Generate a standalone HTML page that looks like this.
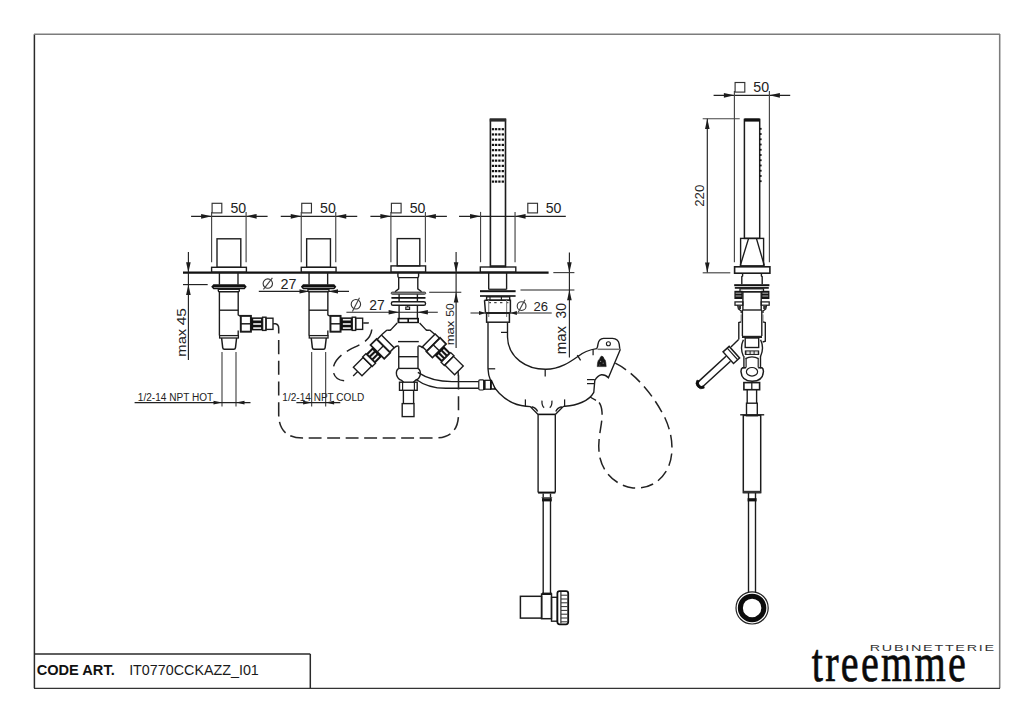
<!DOCTYPE html>
<html><head><meta charset="utf-8"><style>
html,body{margin:0;padding:0;background:#fff;}
svg{display:block;}
</style></head><body>
<svg width="1024" height="723" viewBox="0 0 1024 723">
<rect x="0" y="0" width="1024" height="723" fill="#fff"/>
<line x1="34.40" y1="34.20" x2="34.40" y2="688.20" stroke="#2a2a2a" stroke-width="1.49" /><line x1="34.00" y1="34.30" x2="1000.00" y2="34.30" stroke="#7c7c7c" stroke-width="1.55" /><line x1="999.70" y1="34.00" x2="999.70" y2="688.30" stroke="#7c7c7c" stroke-width="1.55" /><line x1="34.00" y1="688.30" x2="1000.00" y2="688.30" stroke="#333" stroke-width="1.32" /><line x1="34.00" y1="654.00" x2="310.30" y2="654.00" stroke="#2a2a2a" stroke-width="1.49" /><line x1="310.30" y1="654.00" x2="310.30" y2="688.10" stroke="#2a2a2a" stroke-width="1.49" /><text transform="translate(36.69,675.48) scale(0.9730,0.9788)" font-family="Liberation Sans" font-weight="bold" font-size="15" fill="#111" >CODE ART.</text><text transform="translate(129.14,675.44) scale(0.9880,0.9615)" font-family="Liberation Sans" font-weight="normal" font-size="14.5" fill="#1a1a1a" >IT0770CCKAZZ_I01</text><text transform="translate(811.83,680.89) scale(0.7438,1.0105)" font-family="Liberation Serif" font-weight="normal" font-size="54" fill="#0a0a0a" stroke="#0a0a0a" stroke-width="0.7" letter-spacing="3">treemme</text><text transform="translate(869.78,651.08) scale(1.4986,0.9778)" font-family="Liberation Sans" font-weight="normal" font-size="9.6" fill="#333" letter-spacing="1.15">RUBINETTERIE</text><line x1="183.00" y1="272.60" x2="548.60" y2="272.60" stroke="#111" stroke-width="2.30" /><line x1="191.10" y1="216.30" x2="267.60" y2="216.30" stroke="#222" stroke-width="1.15" /><rect x="212.10" y="203.30" width="9.70" height="9.60" stroke="#333" stroke-width="1.15" fill="none" /><text transform="translate(230.47,213.17) scale(1.0087,1.0228)" font-family="Liberation Sans" font-weight="normal" font-size="14" fill="#222" >50</text><polygon points="211.60,216.30 201.10,218.70 201.10,213.90" fill="#1c1c1c"/><polygon points="246.10,216.30 256.60,213.90 256.60,218.70" fill="#1c1c1c"/><line x1="211.60" y1="211.90" x2="211.60" y2="262.20" stroke="#444" stroke-width="1.15" /><line x1="246.10" y1="211.90" x2="246.10" y2="262.20" stroke="#444" stroke-width="1.15" /><line x1="280.75" y1="216.30" x2="357.25" y2="216.30" stroke="#222" stroke-width="1.15" /><rect x="301.75" y="203.30" width="9.70" height="9.60" stroke="#333" stroke-width="1.15" fill="none" /><text transform="translate(320.12,213.17) scale(1.0087,1.0228)" font-family="Liberation Sans" font-weight="normal" font-size="14" fill="#222" >50</text><polygon points="301.25,216.30 290.75,218.70 290.75,213.90" fill="#1c1c1c"/><polygon points="335.75,216.30 346.25,213.90 346.25,218.70" fill="#1c1c1c"/><line x1="301.25" y1="211.90" x2="301.25" y2="262.20" stroke="#444" stroke-width="1.15" /><line x1="335.75" y1="211.90" x2="335.75" y2="262.20" stroke="#444" stroke-width="1.15" /><line x1="370.40" y1="216.30" x2="446.90" y2="216.30" stroke="#222" stroke-width="1.15" /><rect x="391.40" y="203.30" width="9.70" height="9.60" stroke="#333" stroke-width="1.15" fill="none" /><text transform="translate(409.77,213.17) scale(1.0087,1.0228)" font-family="Liberation Sans" font-weight="normal" font-size="14" fill="#222" >50</text><polygon points="390.90,216.30 380.40,218.70 380.40,213.90" fill="#1c1c1c"/><polygon points="425.40,216.30 435.90,213.90 435.90,218.70" fill="#1c1c1c"/><line x1="390.90" y1="211.90" x2="390.90" y2="262.20" stroke="#444" stroke-width="1.15" /><line x1="425.40" y1="211.90" x2="425.40" y2="262.20" stroke="#444" stroke-width="1.15" /><line x1="459.05" y1="216.30" x2="565.80" y2="216.30" stroke="#222" stroke-width="1.15" /><rect x="527.80" y="203.30" width="9.70" height="9.60" stroke="#333" stroke-width="1.15" fill="none" /><text transform="translate(545.67,213.17) scale(1.0087,1.0228)" font-family="Liberation Sans" font-weight="normal" font-size="14" fill="#222" >50</text><polygon points="480.55,216.30 470.05,218.70 470.05,213.90" fill="#1c1c1c"/><polygon points="515.05,216.30 525.55,213.90 525.55,218.70" fill="#1c1c1c"/><line x1="480.55" y1="211.90" x2="480.55" y2="262.20" stroke="#444" stroke-width="1.15" /><line x1="515.05" y1="211.90" x2="515.05" y2="262.20" stroke="#444" stroke-width="1.15" /><rect x="217.00" y="238.80" width="23.80" height="28.50" stroke="#1c1c1c" stroke-width="1.38" fill="none" /><rect x="211.60" y="267.30" width="34.80" height="4.90" stroke="#1c1c1c" stroke-width="1.38" fill="none" /><line x1="219.40" y1="272.60" x2="219.40" y2="284.60" stroke="#1c1c1c" stroke-width="1.38" /><line x1="238.00" y1="272.60" x2="238.00" y2="284.60" stroke="#1c1c1c" stroke-width="1.38" /><polygon points="211.2,286.7 213.4,284.2 244.6,284.2 246.7,286.7 244.6,289.2 213.4,289.2" fill="#111"/><line x1="213.80" y1="287.50" x2="244.20" y2="287.50" stroke="#8a8a8a" stroke-width="1.03" /><path d="M218.3,289.2 L239.3,289.2 L239.3,290.8 Q239.3,291.8 238.3,291.8 L219.3,291.8 Q218.3,291.8 218.3,290.8 Z" stroke="#1c1c1c" stroke-width="1.38" fill="none" /><path d="M219.4,291.6 L219.4,335.6 M238.2,291.6 L238.2,314.8 L240.2,316.2 M238.2,330.5 L238.2,335.6" stroke="#1c1c1c" stroke-width="1.38" fill="none" /><line x1="219.40" y1="310.20" x2="238.20" y2="310.20" stroke="#1c1c1c" stroke-width="1.38" /><rect x="219.60" y="335.60" width="18.80" height="2.40" stroke="#1c1c1c" stroke-width="1.26" fill="none" /><path d="M221.6,338.0 L222.7,347.6 Q222.9,349.2 224.4,349.2 L233.8,349.2 Q235.3,349.2 235.5,347.6 L236.6,338.0" stroke="#1c1c1c" stroke-width="1.49" fill="none" /><line x1="222.00" y1="352.00" x2="222.00" y2="406.50" stroke="#444" stroke-width="1.15" /><line x1="236.00" y1="352.00" x2="236.00" y2="406.50" stroke="#444" stroke-width="1.15" /><rect x="240.80" y="315.90" width="10.10" height="15.80" stroke="#1c1c1c" stroke-width="1.95" fill="none" /><line x1="240.50" y1="323.80" x2="250.90" y2="323.80" stroke="#1c1c1c" stroke-width="1.49" /><rect x="250.90" y="317.40" width="11.70" height="13.00" fill="#111"/><rect x="253.20" y="318.90" width="7.90" height="1.60" fill="#f4f4f4"/><rect x="253.20" y="323.20" width="7.90" height="1.60" fill="#f4f4f4"/><rect x="253.20" y="327.30" width="7.90" height="1.60" fill="#f4f4f4"/><rect x="262.60" y="317.20" width="3.40" height="13.20" stroke="#1c1c1c" stroke-width="1.38" fill="none" /><rect x="266.00" y="318.20" width="7.00" height="11.20" stroke="#1c1c1c" stroke-width="1.38" fill="none" /><text transform="translate(137.84,400.7) scale(0.9501,1)" font-family="Liberation Sans" font-size="10.6" fill="#222">1/2-14 NPT HOT</text><line x1="134.60" y1="402.60" x2="250.50" y2="402.60" stroke="#222" stroke-width="1.15" /><polygon points="222.00,402.60 213.50,404.50 213.50,400.70" fill="#1c1c1c"/><polygon points="236.00,402.60 244.50,400.70 244.50,404.50" fill="#1c1c1c"/><rect x="306.65" y="238.80" width="23.80" height="28.50" stroke="#1c1c1c" stroke-width="1.38" fill="none" /><rect x="301.25" y="267.30" width="34.80" height="4.90" stroke="#1c1c1c" stroke-width="1.38" fill="none" /><line x1="309.05" y1="272.60" x2="309.05" y2="284.60" stroke="#1c1c1c" stroke-width="1.38" /><line x1="327.65" y1="272.60" x2="327.65" y2="284.60" stroke="#1c1c1c" stroke-width="1.38" /><polygon points="300.85,286.7 303.05,284.2 334.25,284.2 336.35,286.7 334.25,289.2 303.05,289.2" fill="#111"/><line x1="303.45" y1="287.50" x2="333.85" y2="287.50" stroke="#8a8a8a" stroke-width="1.03" /><path d="M307.95000000000005,289.2 L328.95000000000005,289.2 L328.95000000000005,290.8 Q328.95000000000005,291.8 327.95000000000005,291.8 L308.95000000000005,291.8 Q307.95000000000005,291.8 307.95000000000005,290.8 Z" stroke="#1c1c1c" stroke-width="1.38" fill="none" /><path d="M309.05,291.6 L309.05,335.6 M327.85,291.6 L327.85,314.8 L329.85,316.2 M327.85,330.5 L327.85,335.6" stroke="#1c1c1c" stroke-width="1.38" fill="none" /><line x1="309.05" y1="310.20" x2="327.85" y2="310.20" stroke="#1c1c1c" stroke-width="1.38" /><rect x="309.25" y="335.60" width="18.80" height="2.40" stroke="#1c1c1c" stroke-width="1.26" fill="none" /><path d="M311.25,338.0 L312.35,347.6 Q312.55,349.2 314.05,349.2 L323.45000000000005,349.2 Q324.95000000000005,349.2 325.15,347.6 L326.25,338.0" stroke="#1c1c1c" stroke-width="1.49" fill="none" /><line x1="311.65" y1="352.00" x2="311.65" y2="406.50" stroke="#444" stroke-width="1.15" /><line x1="325.65" y1="352.00" x2="325.65" y2="406.50" stroke="#444" stroke-width="1.15" /><rect x="330.45" y="315.90" width="10.10" height="15.80" stroke="#1c1c1c" stroke-width="1.95" fill="none" /><line x1="330.15" y1="323.80" x2="340.55" y2="323.80" stroke="#1c1c1c" stroke-width="1.49" /><rect x="340.55" y="317.40" width="11.70" height="13.00" fill="#111"/><rect x="342.85" y="318.90" width="7.90" height="1.60" fill="#f4f4f4"/><rect x="342.85" y="323.20" width="7.90" height="1.60" fill="#f4f4f4"/><rect x="342.85" y="327.30" width="7.90" height="1.60" fill="#f4f4f4"/><rect x="352.25" y="317.20" width="3.40" height="13.20" stroke="#1c1c1c" stroke-width="1.38" fill="none" /><rect x="355.65" y="318.20" width="7.00" height="11.20" stroke="#1c1c1c" stroke-width="1.38" fill="none" /><text transform="translate(282.35,400.7) scale(0.9487,1)" font-family="Liberation Sans" font-size="10.6" fill="#222">1/2-14 NPT COLD</text><line x1="296.40" y1="402.60" x2="340.30" y2="402.60" stroke="#222" stroke-width="1.15" /><polygon points="311.65,402.60 303.15,404.50 303.15,400.70" fill="#1c1c1c"/><polygon points="325.65,402.60 334.15,400.70 334.15,404.50" fill="#1c1c1c"/><line x1="258.80" y1="291.40" x2="349.00" y2="291.40" stroke="#222" stroke-width="1.15" /><polygon points="309.00,291.40 299.50,293.50 299.50,289.30" fill="#1c1c1c"/><polygon points="328.50,291.40 338.00,289.30 338.00,293.50" fill="#1c1c1c"/><circle cx="267.8" cy="283.6" r="4.7" stroke="#333" stroke-width="1.1" fill="none"/><line x1="263.40" y1="289.40" x2="272.40" y2="277.80" stroke="#444" stroke-width="1.15" /><text transform="translate(280.53,288.90) scale(1.0265,1.0051)" font-family="Liberation Sans" font-weight="normal" font-size="14" fill="#222" >27</text><line x1="188.40" y1="252.00" x2="188.40" y2="272.60" stroke="#222" stroke-width="1.15" /><polygon points="188.40,272.60 186.10,262.30 190.70,262.30" fill="#1c1c1c"/><line x1="183.00" y1="284.60" x2="207.70" y2="284.60" stroke="#222" stroke-width="1.15" /><line x1="188.40" y1="272.60" x2="188.40" y2="360.00" stroke="#222" stroke-width="1.15" /><polygon points="188.40,284.60 190.70,294.90 186.10,294.90" fill="#1c1c1c"/><text transform="translate(185.78,325.32) rotate(-90) scale(1.1077,0.9231)" font-family="Liberation Sans" font-size="14" fill="#222">45</text><text transform="translate(185.78,356.66) rotate(-90) scale(1.0574,0.9231)" font-family="Liberation Sans" font-size="14" fill="#222">max</text><rect x="397.20" y="238.60" width="22.60" height="27.30" stroke="#1c1c1c" stroke-width="1.38" fill="none" /><rect x="391.00" y="265.90" width="34.60" height="6.30" stroke="#1c1c1c" stroke-width="1.38" fill="none" /><path d="M397.9,272.6 L397.9,276.2 Q397.9,277.6 399.3,277.6 L417.2,277.6 Q418.6,277.6 418.6,276.2 L418.6,272.6" stroke="#1c1c1c" stroke-width="1.38" fill="none" /><path d="M398.7,277.6 L398.7,288.8 L395.0,291.8 M417.8,277.6 L417.8,288.8 L421.6,291.8" stroke="#1c1c1c" stroke-width="1.38" fill="none" /><rect x="391.2" y="292.1" width="34.5" height="2.2" rx="1.0" stroke="#333" stroke-width="0.9" fill="#888"/><line x1="399.10" y1="294.30" x2="399.10" y2="318.00" stroke="#1c1c1c" stroke-width="1.38" /><line x1="417.40" y1="294.30" x2="417.40" y2="318.00" stroke="#1c1c1c" stroke-width="1.38" /><rect x="391.2" y="297.1" width="34.5" height="1.7" rx="0.8" fill="#111"/><rect x="391.4" y="301.7" width="34.1" height="3.6" rx="1.6" stroke="#1c1c1c" stroke-width="1.4" fill="#fff"/><path d="M405.8,309.4 L405.8,307.0 L409.6,307.0 L409.6,309.4 Z M407.7,307.0 L407.7,305.6" stroke="#1c1c1c" stroke-width="1.15" fill="none" /><rect x="397.50" y="317.80" width="21.50" height="5.40" fill="#111"/><rect x="399.40" y="319.40" width="8.00" height="2.40" fill="#fff"/><rect x="409.00" y="319.40" width="8.20" height="2.40" fill="#fff"/><path d="M397.2,323 L391.0,329.6 Q389.8,330.6 388.2,330.2 Q386.6,330.0 385.6,331.2 L381.6,334.8 M394.0,348.0 Q396.6,345.2 398.75,346.2" stroke="#1c1c1c" stroke-width="1.38" fill="none" /><path d="M419.59999999999997,323 L425.79999999999995,329.6 Q426.99999999999994,330.6 428.59999999999997,330.2 Q430.19999999999993,330.0 431.19999999999993,331.2 L435.19999999999993,334.8 M422.79999999999995,348.0 Q420.19999999999993,345.2 418.04999999999995,346.2" stroke="#1c1c1c" stroke-width="1.38" fill="none" /><line x1="398.00" y1="341.60" x2="418.80" y2="341.60" stroke="#1c1c1c" stroke-width="1.38" /><line x1="398.75" y1="346.20" x2="398.75" y2="368.40" stroke="#1c1c1c" stroke-width="1.38" /><line x1="418.00" y1="346.20" x2="418.00" y2="368.40" stroke="#1c1c1c" stroke-width="1.38" /><line x1="398.75" y1="356.70" x2="418.00" y2="356.70" stroke="#1c1c1c" stroke-width="1.38" /><line x1="398.75" y1="368.40" x2="418.00" y2="368.40" stroke="#1c1c1c" stroke-width="1.38" /><path d="M398.75,368.4 Q395.6,370.5 396.6,375.0 Q397.8,379.2 401.6,380.4 L403.6,382.2 M418.0,368.4 Q421.0,370.5 420.2,375.0 Q419.2,379.2 415.4,380.4 L413.4,382.2" stroke="#1c1c1c" stroke-width="1.38" fill="none" /><rect x="399.50" y="382.20" width="17.70" height="8.10" stroke="#1c1c1c" stroke-width="1.38" fill="none" /><line x1="402.60" y1="382.20" x2="402.60" y2="390.30" stroke="#1c1c1c" stroke-width="1.15" /><line x1="414.40" y1="382.20" x2="414.40" y2="390.30" stroke="#1c1c1c" stroke-width="1.15" /><line x1="403.40" y1="390.30" x2="403.40" y2="403.60" stroke="#1c1c1c" stroke-width="1.38" /><line x1="413.60" y1="390.30" x2="413.60" y2="403.60" stroke="#1c1c1c" stroke-width="1.38" /><rect x="402.20" y="403.60" width="11.80" height="13.00" stroke="#1c1c1c" stroke-width="1.38" fill="none" /><path d="M417.8,372.3 Q432,381.6 452,381.6 L478.8,381.6" stroke="#1c1c1c" stroke-width="1.38" fill="none" /><path d="M415.8,379.2 Q428,388.3 446,388.3 L478.8,388.3" stroke="#1c1c1c" stroke-width="1.38" fill="none" /><g transform="translate(387.8,341.4) rotate(135)"><rect x="0.00" y="-9.00" width="6.20" height="18.00" stroke="#1c1c1c" stroke-width="1.49" fill="none" /><rect x="6.20" y="-9.70" width="8.60" height="19.40" stroke="#1c1c1c" stroke-width="1.72" fill="none" /><line x1="6.20" y1="0.00" x2="14.80" y2="0.00" stroke="#1c1c1c" stroke-width="1.38" /><rect x="14.80" y="-6.60" width="9.40" height="13.20" fill="#111"/><rect x="16.80" y="-4.60" width="6.20" height="1.70" fill="#eee"/><rect x="16.80" y="-0.85" width="6.20" height="1.70" fill="#eee"/><rect x="16.80" y="2.90" width="6.20" height="1.70" fill="#eee"/><rect x="24.20" y="-6.80" width="4.60" height="13.60" stroke="#1c1c1c" stroke-width="1.38" fill="none" /><rect x="28.80" y="-6.10" width="13.80" height="12.20" stroke="#1c1c1c" stroke-width="1.38" fill="none" /><line x1="42.60" y1="0.00" x2="49.00" y2="0.00" stroke="#1c1c1c" stroke-width="1.38" /></g><g transform="translate(428.8,340.3) rotate(45)"><rect x="0.00" y="-9.00" width="6.20" height="18.00" stroke="#1c1c1c" stroke-width="1.49" fill="none" /><rect x="6.20" y="-9.70" width="8.60" height="19.40" stroke="#1c1c1c" stroke-width="1.72" fill="none" /><line x1="6.20" y1="0.00" x2="14.80" y2="0.00" stroke="#1c1c1c" stroke-width="1.38" /><rect x="14.80" y="-6.60" width="9.40" height="13.20" fill="#111"/><rect x="16.80" y="-4.60" width="6.20" height="1.70" fill="#eee"/><rect x="16.80" y="-0.85" width="6.20" height="1.70" fill="#eee"/><rect x="16.80" y="2.90" width="6.20" height="1.70" fill="#eee"/><rect x="24.20" y="-6.80" width="4.60" height="13.60" stroke="#1c1c1c" stroke-width="1.38" fill="none" /><rect x="28.80" y="-6.10" width="13.80" height="12.20" stroke="#1c1c1c" stroke-width="1.38" fill="none" /></g><line x1="458.00" y1="371.00" x2="458.40" y2="376.00" stroke="#222" stroke-width="1.49" /><line x1="346.40" y1="312.20" x2="437.80" y2="312.20" stroke="#222" stroke-width="1.15" /><polygon points="399.10,312.20 388.60,314.50 388.60,309.90" fill="#1c1c1c"/><polygon points="417.40,312.20 427.90,309.90 427.90,314.50" fill="#1c1c1c"/><circle cx="355.9" cy="304.25" r="4.7" stroke="#333" stroke-width="1.1" fill="none"/><line x1="352.40" y1="311.60" x2="359.50" y2="297.80" stroke="#444" stroke-width="1.15" /><text transform="translate(369.36,309.60) scale(0.9912,1.0564)" font-family="Liberation Sans" font-weight="normal" font-size="14" fill="#222" >27</text><line x1="456.10" y1="252.00" x2="456.10" y2="272.60" stroke="#222" stroke-width="1.15" /><polygon points="456.10,272.60 453.80,262.30 458.40,262.30" fill="#1c1c1c"/><line x1="429.20" y1="292.20" x2="461.30" y2="292.20" stroke="#222" stroke-width="1.15" /><line x1="456.10" y1="272.60" x2="456.10" y2="348.00" stroke="#222" stroke-width="1.15" /><polygon points="456.10,292.20 458.40,302.50 453.80,302.50" fill="#1c1c1c"/><text transform="translate(453.60,316.75) rotate(-90) scale(0.8765,0.8203)" font-family="Liberation Sans" font-size="14" fill="#222">50</text><text transform="translate(453.60,345.23) rotate(-90) scale(0.9267,0.8203)" font-family="Liberation Sans" font-size="14" fill="#222">max</text><rect x="490.40" y="119.50" width="15.10" height="147.10" stroke="#1c1c1c" stroke-width="1.61" fill="none" /><rect x="489.80" y="118.40" width="16.30" height="3.20" fill="#2a2a2a"/><rect x="491.85" y="128.10" width="2.30" height="2.20" fill="#111"/><rect x="494.95" y="128.10" width="2.30" height="2.20" fill="#111"/><rect x="498.25" y="128.10" width="2.30" height="2.20" fill="#111"/><rect x="501.65" y="128.10" width="2.30" height="2.20" fill="#111"/><rect x="491.85" y="133.34" width="2.30" height="2.20" fill="#111"/><rect x="494.95" y="133.34" width="2.30" height="2.20" fill="#111"/><rect x="498.25" y="133.34" width="2.30" height="2.20" fill="#111"/><rect x="501.65" y="133.34" width="2.30" height="2.20" fill="#111"/><rect x="491.85" y="138.58" width="2.30" height="2.20" fill="#111"/><rect x="494.95" y="138.58" width="2.30" height="2.20" fill="#111"/><rect x="498.25" y="138.58" width="2.30" height="2.20" fill="#111"/><rect x="501.65" y="138.58" width="2.30" height="2.20" fill="#111"/><rect x="491.85" y="143.82" width="2.30" height="2.20" fill="#111"/><rect x="494.95" y="143.82" width="2.30" height="2.20" fill="#111"/><rect x="498.25" y="143.82" width="2.30" height="2.20" fill="#111"/><rect x="501.65" y="143.82" width="2.30" height="2.20" fill="#111"/><rect x="491.85" y="149.06" width="2.30" height="2.20" fill="#111"/><rect x="494.95" y="149.06" width="2.30" height="2.20" fill="#111"/><rect x="498.25" y="149.06" width="2.30" height="2.20" fill="#111"/><rect x="501.65" y="149.06" width="2.30" height="2.20" fill="#111"/><rect x="491.85" y="154.30" width="2.30" height="2.20" fill="#111"/><rect x="494.95" y="154.30" width="2.30" height="2.20" fill="#111"/><rect x="498.25" y="154.30" width="2.30" height="2.20" fill="#111"/><rect x="501.65" y="154.30" width="2.30" height="2.20" fill="#111"/><rect x="491.85" y="159.54" width="2.30" height="2.20" fill="#111"/><rect x="494.95" y="159.54" width="2.30" height="2.20" fill="#111"/><rect x="498.25" y="159.54" width="2.30" height="2.20" fill="#111"/><rect x="501.65" y="159.54" width="2.30" height="2.20" fill="#111"/><rect x="491.85" y="164.78" width="2.30" height="2.20" fill="#111"/><rect x="494.95" y="164.78" width="2.30" height="2.20" fill="#111"/><rect x="498.25" y="164.78" width="2.30" height="2.20" fill="#111"/><rect x="501.65" y="164.78" width="2.30" height="2.20" fill="#111"/><rect x="491.85" y="170.02" width="2.30" height="2.20" fill="#111"/><rect x="494.95" y="170.02" width="2.30" height="2.20" fill="#111"/><rect x="498.25" y="170.02" width="2.30" height="2.20" fill="#111"/><rect x="501.65" y="170.02" width="2.30" height="2.20" fill="#111"/><rect x="491.85" y="175.26" width="2.30" height="2.20" fill="#111"/><rect x="494.95" y="175.26" width="2.30" height="2.20" fill="#111"/><rect x="498.25" y="175.26" width="2.30" height="2.20" fill="#111"/><rect x="501.65" y="175.26" width="2.30" height="2.20" fill="#111"/><rect x="491.85" y="180.50" width="2.30" height="2.20" fill="#111"/><rect x="494.95" y="180.50" width="2.30" height="2.20" fill="#111"/><rect x="498.25" y="180.50" width="2.30" height="2.20" fill="#111"/><rect x="501.65" y="180.50" width="2.30" height="2.20" fill="#111"/><rect x="490.60" y="265.20" width="14.40" height="1.60" fill="#333"/><rect x="480.30" y="267.00" width="35.50" height="5.20" stroke="#1c1c1c" stroke-width="1.38" fill="none" /><line x1="488.70" y1="272.60" x2="488.70" y2="289.40" stroke="#1c1c1c" stroke-width="1.38" /><line x1="506.60" y1="272.60" x2="506.60" y2="289.40" stroke="#1c1c1c" stroke-width="1.38" /><rect x="488.70" y="288.60" width="17.90" height="1.40" fill="#333"/><rect x="480.00" y="290.20" width="35.60" height="2.00" fill="#111"/><rect x="480.00" y="295.20" width="35.60" height="1.60" fill="#111"/><rect x="486.60" y="296.80" width="23.10" height="3.40" stroke="#1c1c1c" stroke-width="1.38" fill="none" /><line x1="490.00" y1="296.80" x2="490.00" y2="300.20" stroke="#1c1c1c" stroke-width="1.15" /><line x1="501.40" y1="296.80" x2="501.40" y2="300.20" stroke="#1c1c1c" stroke-width="1.15" /><path d="M484.5,300.2 L510.4,300.2 L510.4,312.8 M484.5,300.2 L485.5,312.8" stroke="#1c1c1c" stroke-width="1.49" fill="none" /><line x1="488.60" y1="302.60" x2="491.00" y2="302.60" stroke="#444" stroke-width="1.26" /><line x1="494.20" y1="302.60" x2="496.60" y2="302.60" stroke="#444" stroke-width="1.26" /><line x1="500.00" y1="302.60" x2="502.40" y2="302.60" stroke="#444" stroke-width="1.26" /><line x1="506.00" y1="302.60" x2="508.40" y2="302.60" stroke="#444" stroke-width="1.26" /><line x1="488.70" y1="300.20" x2="488.70" y2="317.00" stroke="#888" stroke-width="1.15" /><line x1="506.60" y1="300.20" x2="506.60" y2="317.00" stroke="#888" stroke-width="1.15" /><rect x="485.50" y="312.00" width="24.90" height="2.00" fill="#333"/><rect x="486.60" y="313.00" width="22.80" height="9.20" stroke="#1c1c1c" stroke-width="1.49" fill="none" /><line x1="470.50" y1="313.00" x2="551.70" y2="313.00" stroke="#222" stroke-width="1.15" /><polygon points="485.50,313.00 479.00,315.00 479.00,311.00" fill="#1c1c1c"/><polygon points="510.40,313.00 516.90,311.00 516.90,315.00" fill="#1c1c1c"/><circle cx="521.6" cy="306.1" r="4.4" stroke="#333" stroke-width="1.1" fill="none"/><line x1="518.20" y1="312.20" x2="525.00" y2="299.80" stroke="#444" stroke-width="1.15" /><text transform="translate(533.40,310.58) scale(0.9333,0.9519)" font-family="Liberation Sans" font-weight="normal" font-size="14" fill="#222" >26</text><line x1="569.40" y1="252.50" x2="569.40" y2="272.60" stroke="#222" stroke-width="1.15" /><polygon points="569.40,272.60 567.10,262.30 571.70,262.30" fill="#1c1c1c"/><line x1="553.30" y1="272.60" x2="574.40" y2="272.60" stroke="#444" stroke-width="1.15" /><line x1="520.50" y1="290.00" x2="574.40" y2="290.00" stroke="#222" stroke-width="1.15" /><line x1="569.40" y1="272.60" x2="569.40" y2="357.50" stroke="#222" stroke-width="1.15" /><polygon points="569.40,290.00 571.70,300.30 567.10,300.30" fill="#1c1c1c"/><text transform="translate(566.07,318.39) rotate(-90) scale(0.9862,1.0532)" font-family="Liberation Sans" font-size="14" fill="#222">30</text><text transform="translate(566.07,354.27) rotate(-90) scale(1.0693,1.0532)" font-family="Liberation Sans" font-size="14" fill="#222">max</text><path d="M488.0,322.8 L488.0,368.8 C488.3,386 505,404.5 526,406.2 L530.2,406.6 L538.1,414.4 M531.6,406.8 Q536.0,407.6 537.6,411.4" stroke="#1c1c1c" stroke-width="1.38" fill="none" /><path d="M561.8,406.8 Q557.4,407.6 555.8,411.4 M555.3,414.4 L563.2,406.6 L565.0,406.2 C577,405.5 589,401 593.8,392.3 L594.8,380.5 Q597.5,375.6 601.5,374.8 Q605.5,374.6 608.4,377.8 L620.4,349.3" stroke="#1c1c1c" stroke-width="1.38" fill="none" /><path d="M507.5,322.8 L507.5,337 C508,358 527,369.5 546,369.3 C560,369 570,362 577.5,356.7 C583,352.2 590,349.6 596.7,348.6" stroke="#1c1c1c" stroke-width="1.38" fill="none" /><path d="M596.5,349.0 Q597.6,347.8 598.0,344.2 Q598.8,338.6 603.6,338.4 L612.4,338.4 Q618.4,338.8 619.2,344.2 L619.8,349.0" stroke="#1c1c1c" stroke-width="1.38" fill="none" /><circle cx="608.4" cy="343.8" r="2.0" stroke="#1c1c1c" stroke-width="1.1" fill="none"/><line x1="597.50" y1="349.30" x2="620.00" y2="349.30" stroke="#777" stroke-width="1.49" /><rect x="538.10" y="413.60" width="17.20" height="1.60" fill="#111"/><line x1="538.10" y1="414.30" x2="538.10" y2="492.60" stroke="#1c1c1c" stroke-width="1.38" /><line x1="555.30" y1="414.30" x2="555.30" y2="492.60" stroke="#1c1c1c" stroke-width="1.38" /><line x1="501.00" y1="332.40" x2="507.50" y2="332.40" stroke="#1c1c1c" stroke-width="1.26" /><line x1="488.00" y1="368.80" x2="495.20" y2="368.80" stroke="#1c1c1c" stroke-width="1.26" /><line x1="545.20" y1="369.30" x2="545.20" y2="376.50" stroke="#1c1c1c" stroke-width="1.26" /><line x1="577.30" y1="355.20" x2="580.60" y2="360.40" stroke="#1c1c1c" stroke-width="1.26" /><line x1="593.10" y1="349.20" x2="593.10" y2="355.30" stroke="#1c1c1c" stroke-width="1.26" /><line x1="525.40" y1="399.40" x2="525.40" y2="406.20" stroke="#1c1c1c" stroke-width="1.26" /><line x1="564.60" y1="399.40" x2="564.60" y2="406.20" stroke="#1c1c1c" stroke-width="1.26" /><line x1="587.00" y1="379.60" x2="594.80" y2="379.60" stroke="#1c1c1c" stroke-width="1.26" /><line x1="587.00" y1="383.60" x2="594.80" y2="383.60" stroke="#1c1c1c" stroke-width="1.26" /><line x1="590.00" y1="397.00" x2="596.00" y2="400.40" stroke="#1c1c1c" stroke-width="1.26" /><path d="M542.0,400.6 Q541.6,406.0 544.2,407.6 M551.9,400.6 Q552.3,406.0 549.7,407.6" stroke="#1c1c1c" stroke-width="1.26" fill="none" /><path d="M597.2,366.6 L597.6,362.4 Q598.2,359.8 599.6,359.0 Q600.4,356.2 601.8,356.1 Q603.4,356.3 604.2,358.9 Q605.6,359.8 605.8,362.6 L606.2,366.6 Z" stroke="#1c1c1c" stroke-width="0.57" fill="#151515" /><circle cx="600.6" cy="361.4" r="0.6" fill="#888"/><circle cx="603.2" cy="363.2" r="0.6" fill="#888"/><circle cx="599.8" cy="365.0" r="0.5" fill="#888"/><rect x="478.8" y="379.8" width="5.2" height="10.2" rx="1.2" stroke="#1c1c1c" stroke-width="1.2" fill="#fff"/><rect x="483.20" y="380.00" width="1.80" height="10.00" fill="#111"/><rect x="485.00" y="380.30" width="5.60" height="8.90" stroke="#1c1c1c" stroke-width="1.26" fill="none" /><polygon points="490.0,379.7 491.9,379.7 496.3,389.8 490.0,389.8" fill="#111"/><polygon points="491.9,383.0 494.2,388.2 491.9,388.2" fill="#fff"/><rect x="538.10" y="491.60" width="17.20" height="2.00" fill="#111"/><line x1="543.20" y1="493.60" x2="543.20" y2="593.40" stroke="#1c1c1c" stroke-width="1.38" /><line x1="550.50" y1="493.60" x2="550.50" y2="593.40" stroke="#1c1c1c" stroke-width="1.38" /><rect x="542.00" y="498.20" width="9.80" height="3.20" fill="#151515"/><line x1="541.60" y1="497.60" x2="552.20" y2="497.60" stroke="#444" stroke-width="0.92" /><rect x="542.00" y="592.60" width="9.80" height="2.40" fill="#111"/><rect x="520.40" y="596.30" width="21.20" height="21.80" stroke="#1c1c1c" stroke-width="1.49" fill="none" /><rect x="541.60" y="594.00" width="9.90" height="24.70" stroke="#1c1c1c" stroke-width="1.49" fill="none" /><rect x="551.50" y="597.30" width="5.90" height="23.90" stroke="#1c1c1c" stroke-width="1.38" fill="none" /><rect x="557.4" y="591.1" width="10.8" height="33.2" rx="2.2" stroke="#111" stroke-width="1.8" fill="#fff"/><line x1="560.90" y1="592.00" x2="560.90" y2="623.40" stroke="#222" stroke-width="1.15" /><line x1="561.00" y1="595.20" x2="567.60" y2="595.20" stroke="#333" stroke-width="1.03" /><line x1="561.00" y1="599.00" x2="567.60" y2="599.00" stroke="#333" stroke-width="1.03" /><line x1="561.00" y1="602.80" x2="567.60" y2="602.80" stroke="#333" stroke-width="1.03" /><line x1="561.00" y1="606.60" x2="567.60" y2="606.60" stroke="#333" stroke-width="1.03" /><line x1="561.00" y1="610.40" x2="567.60" y2="610.40" stroke="#333" stroke-width="1.03" /><line x1="561.00" y1="614.20" x2="567.60" y2="614.20" stroke="#333" stroke-width="1.03" /><line x1="561.00" y1="618.00" x2="567.60" y2="618.00" stroke="#333" stroke-width="1.03" /><line x1="561.00" y1="621.80" x2="567.60" y2="621.80" stroke="#333" stroke-width="1.03" /><path d="M273.0,323.7 L275.4,323.7 Q278.7,324.2 278.7,328.4 L278.7,414.0 Q278.7,438.0 302.7,438.0 L434.5,438.0 Q458.5,438.0 458.5,414.0 L458.5,372.0" stroke="#262626" stroke-width="1.55" fill="none" stroke-dasharray="13.7 6.6 14.1 6.6 14.1 6.6 14.1 6.6 14.1 5.4 12.9 5.6 12.9 5.6 12.9 5.6 12.9 5.6 12.9 5.6 12.9 5.6 12.9 5.6 12.9 5.6 12.9 5.6 12.9 5.6"/><path d="M363.2,323.0 L368.6,323.0 Q372.2,323.6 371.8,329.6 C370.4,340.2 362.5,343.4 352.0,348.4 C340.5,354.2 333.0,361.6 333.2,370.2 C333.6,378.6 340.6,381.2 347.5,381.0" stroke="#222" stroke-width="1.49" fill="none" stroke-dasharray="5.6 7.6 14 6.6 14 6.6 14 6.6 14 6.6 14 6.6"/><path d="M615.3,363.2 C633,372 652,392 665,418 C672,433 675,452 668,468 C660,484 646,489 633,488 C618,486 604,475 600,458 C596,440 603,425 602,412 C601.5,405 599,401 595.4,399.7" stroke="#222" stroke-width="1.49" fill="none" stroke-dasharray="12.7 5.9"/><line x1="713.60" y1="95.30" x2="790.20" y2="95.30" stroke="#222" stroke-width="1.15" /><polygon points="734.40,95.30 723.90,97.70 723.90,92.90" fill="#1c1c1c"/><polygon points="769.40,95.30 779.90,92.90 779.90,97.70" fill="#1c1c1c"/><line x1="734.40" y1="91.10" x2="734.40" y2="262.20" stroke="#444" stroke-width="1.15" /><line x1="769.40" y1="91.10" x2="769.40" y2="262.20" stroke="#444" stroke-width="1.15" /><rect x="735.10" y="82.50" width="9.70" height="9.60" stroke="#333" stroke-width="1.15" fill="none" /><text transform="translate(753.37,92.47) scale(1.0157,1.0430)" font-family="Liberation Sans" font-weight="normal" font-size="14" fill="#222" >50</text><rect x="744.40" y="119.40" width="15.30" height="119.00" stroke="#1c1c1c" stroke-width="1.49" fill="none" /><rect x="744.40" y="118.40" width="15.30" height="3.20" fill="#111"/><rect x="759.70" y="127.90" width="1.90" height="1.80" fill="#111"/><rect x="759.70" y="133.14" width="1.90" height="1.80" fill="#111"/><rect x="759.70" y="138.38" width="1.90" height="1.80" fill="#111"/><rect x="759.70" y="143.62" width="1.90" height="1.80" fill="#111"/><rect x="759.70" y="148.86" width="1.90" height="1.80" fill="#111"/><rect x="759.70" y="154.10" width="1.90" height="1.80" fill="#111"/><rect x="759.70" y="159.34" width="1.90" height="1.80" fill="#111"/><rect x="759.70" y="164.58" width="1.90" height="1.80" fill="#111"/><rect x="759.70" y="169.82" width="1.90" height="1.80" fill="#111"/><rect x="759.70" y="175.06" width="1.90" height="1.80" fill="#111"/><rect x="759.70" y="180.30" width="1.90" height="1.80" fill="#111"/><line x1="702.70" y1="118.75" x2="739.70" y2="118.75" stroke="#444" stroke-width="1.15" /><line x1="707.30" y1="118.75" x2="707.30" y2="272.80" stroke="#222" stroke-width="1.15" /><polygon points="707.30,118.75 709.60,129.05 705.00,129.05" fill="#1c1c1c"/><polygon points="707.30,272.80 705.00,262.50 709.60,262.50" fill="#1c1c1c"/><line x1="702.70" y1="272.80" x2="730.30" y2="272.80" stroke="#444" stroke-width="1.15" /><text transform="translate(704.49,206.71) rotate(-90) scale(0.9409,0.9114)" font-family="Liberation Sans" font-size="14" fill="#222">220</text><rect x="740.60" y="238.40" width="23.00" height="27.40" stroke="#1c1c1c" stroke-width="1.38" fill="none" /><path d="M748.6,238.4 L740.2,265.8 M756.4,238.4 L764.4,265.8" stroke="#1c1c1c" stroke-width="1.38" fill="none" /><rect x="734.60" y="266.80" width="35.30" height="6.40" stroke="#1c1c1c" stroke-width="1.61" fill="none" /><path d="M742.6,273.2 L742.6,276.0 L741.8,276.6 L741.8,284.2 M761.4,273.2 L761.4,276.0 L762.2,276.6 L762.2,284.2" stroke="#1c1c1c" stroke-width="1.38" fill="none" /><rect x="734.20" y="284.20" width="35.20" height="2.00" fill="#111"/><rect x="734.80" y="287.00" width="34.00" height="1.80" fill="#222"/><rect x="740.00" y="288.80" width="23.50" height="3.00" stroke="#1c1c1c" stroke-width="1.26" fill="none" /><rect x="734.40" y="290.80" width="8.20" height="8.20" fill="#151515"/><rect x="761.20" y="290.80" width="8.20" height="8.20" fill="#151515"/><rect x="735.60" y="292.60" width="5.80" height="1.20" fill="#999"/><rect x="762.40" y="292.60" width="5.80" height="1.20" fill="#999"/><rect x="735.60" y="295.40" width="5.80" height="1.20" fill="#999"/><rect x="762.40" y="295.40" width="5.80" height="1.20" fill="#999"/><rect x="742.90" y="291.80" width="18.30" height="18.20" stroke="#1c1c1c" stroke-width="1.38" fill="none" /><rect x="735.00" y="301.90" width="7.90" height="3.30" stroke="#1c1c1c" stroke-width="1.26" fill="none" /><rect x="761.20" y="301.90" width="8.00" height="3.30" stroke="#1c1c1c" stroke-width="1.26" fill="none" /><path d="M737.6,305.2 L738.4,308.8 L741.2,311.0 L741.2,313.0 M766.6,305.2 L765.8,308.8 L763.0,311.0 L763.0,313.0" stroke="#1c1c1c" stroke-width="1.26" fill="none" /><rect x="738.20" y="306.00" width="2.80" height="3.00" fill="#333"/><rect x="763.20" y="306.00" width="2.80" height="3.00" fill="#333"/><line x1="742.40" y1="310.00" x2="742.40" y2="336.00" stroke="#1c1c1c" stroke-width="1.38" /><line x1="761.80" y1="310.00" x2="761.80" y2="336.00" stroke="#1c1c1c" stroke-width="1.38" /><line x1="741.20" y1="314.50" x2="741.20" y2="321.50" stroke="#777" stroke-width="1.15" /><line x1="762.90" y1="314.50" x2="762.90" y2="321.50" stroke="#777" stroke-width="1.15" /><path d="M741.2,321.8 L738.8,322.6 L738.8,339.4 M762.9,321.8 L765.3,322.6 L765.3,341.2 L762.6,342.0" stroke="#1c1c1c" stroke-width="1.38" fill="none" /><rect x="742.00" y="335.80" width="20.00" height="2.20" fill="#222"/><rect x="745.20" y="338.00" width="13.50" height="9.50" stroke="#1c1c1c" stroke-width="1.38" fill="none" /><path d="M743.4,339.8 Q739.6,348 743.4,356.2 M760.6,339.8 Q764.4,348 760.6,356.2" stroke="#1c1c1c" stroke-width="1.38" fill="none" /><rect x="744.80" y="350.40" width="14.40" height="4.60" fill="#222"/><rect x="746.40" y="351.40" width="3.20" height="2.60" fill="#ddd"/><rect x="750.60" y="351.40" width="3.00" height="2.60" fill="#ddd"/><rect x="754.60" y="351.40" width="3.20" height="2.60" fill="#ddd"/><path d="M745.4,358.6 Q752,355.2 758.6,358.6" stroke="#1c1c1c" stroke-width="1.38" fill="none" /><line x1="743.90" y1="356.00" x2="743.90" y2="368.40" stroke="#1c1c1c" stroke-width="1.38" /><line x1="760.50" y1="356.00" x2="760.50" y2="368.40" stroke="#1c1c1c" stroke-width="1.38" /><line x1="746.10" y1="358.40" x2="746.10" y2="367.60" stroke="#1c1c1c" stroke-width="1.15" /><line x1="758.20" y1="358.40" x2="758.20" y2="367.60" stroke="#1c1c1c" stroke-width="1.15" /><path d="M746.1,367.8 L742.6,367.8 Q740.8,368.6 741.0,371.8 Q741.6,381.2 752.2,381.2 Q762.8,381.2 763.4,371.8 Q763.6,368.6 761.8,367.8 L758.2,367.8" stroke="#1c1c1c" stroke-width="1.49" fill="none" /><ellipse cx="752.0" cy="371.8" rx="5.6" ry="4.3" stroke="#1c1c1c" stroke-width="1.2" fill="#fff"/><rect x="743.90" y="382.60" width="15.70" height="7.10" stroke="#1c1c1c" stroke-width="1.61" fill="none" /><line x1="751.80" y1="382.60" x2="751.80" y2="389.70" stroke="#1c1c1c" stroke-width="1.26" /><line x1="747.20" y1="389.70" x2="747.20" y2="403.20" stroke="#1c1c1c" stroke-width="1.38" /><line x1="756.60" y1="389.70" x2="756.60" y2="403.20" stroke="#1c1c1c" stroke-width="1.38" /><rect x="746.50" y="403.20" width="10.80" height="12.50" stroke="#1c1c1c" stroke-width="1.38" fill="none" /><rect x="743.30" y="415.40" width="17.40" height="77.20" stroke="#1c1c1c" stroke-width="1.49" fill="none" /><line x1="740.20" y1="414.80" x2="764.20" y2="414.80" stroke="#1c1c1c" stroke-width="1.38" /><rect x="743.30" y="490.80" width="17.40" height="2.40" fill="#333"/><line x1="748.50" y1="493.00" x2="748.50" y2="593.00" stroke="#1c1c1c" stroke-width="1.38" /><line x1="755.50" y1="493.00" x2="755.50" y2="593.00" stroke="#1c1c1c" stroke-width="1.38" /><rect x="747.60" y="498.20" width="9.00" height="3.20" fill="#111"/><circle cx="752.1" cy="607.9" r="11.75" stroke="#0c0c0c" stroke-width="5.0" fill="#fff"/><circle cx="752.1" cy="607.9" r="16.1" stroke="#222" stroke-width="1.2" fill="none"/><g transform="translate(731.4,354.9) rotate(138)"><rect x="-4.00" y="-7.80" width="8.20" height="15.60" stroke="#1c1c1c" stroke-width="1.49" fill="none" /><line x1="-1.40" y1="-7.80" x2="-1.40" y2="7.80" stroke="#1c1c1c" stroke-width="1.15" /></g><path d="M726.0,356.3 L699.24,380.83 A3.35,3.35 0 0 0 703.76,385.77 L730.5,361.2" stroke="#1c1c1c" stroke-width="1.49" fill="none" /><path d="M699.24,380.83 A3.35,3.35 0 0 0 703.76,385.77 L704.27,388.09 A5.6,5.6 0 0 1 696.97,380.13 Z" stroke="#0c0c0c" stroke-width="0.69" fill="#0c0c0c" /><path d="M738.6,339.4 L730.9,347.1" stroke="#1c1c1c" stroke-width="1.38" fill="none" />
</svg></body></html>
